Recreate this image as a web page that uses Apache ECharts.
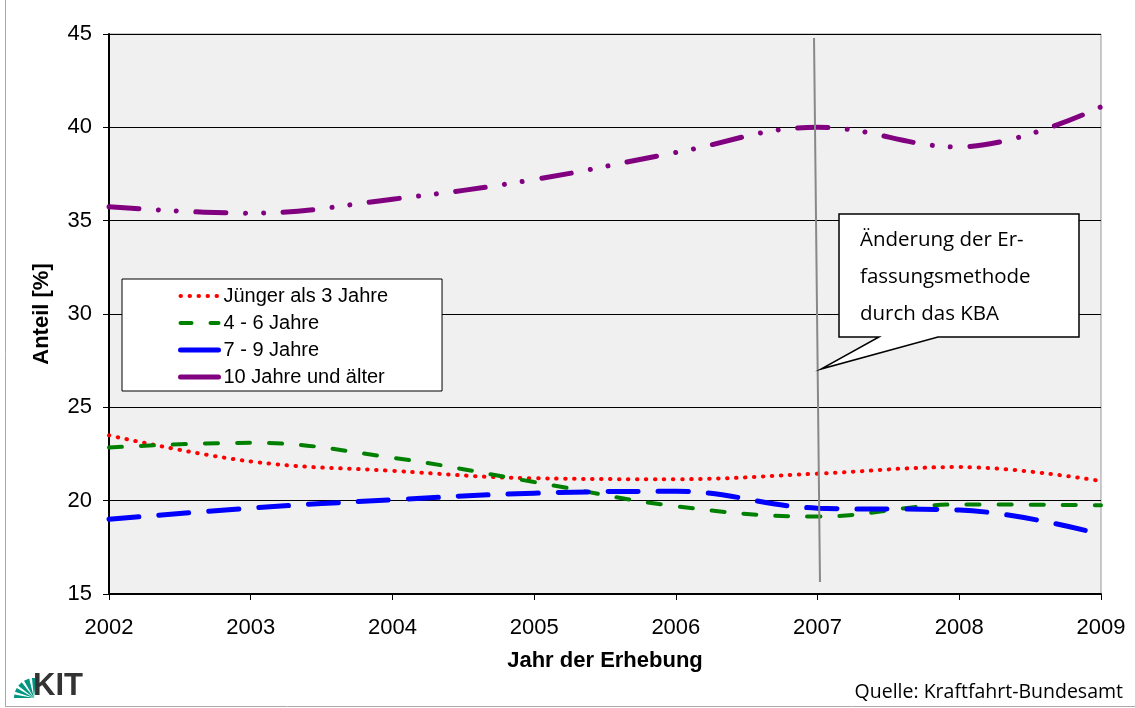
<!DOCTYPE html>
<html>
<head>
<meta charset="utf-8">
<script src="https://cdn.jsdelivr.net/npm/echarts@6/dist/echarts.min.js"></script>
<style>
html,body{margin:0;padding:0;background:#fff;}
#chart{width:1135px;height:708px;}
</style>
</head>
<body>
<div id="chart"></div>
<script>
const years = [2002, 2003, 2004, 2005, 2006, 2007, 2008, 2009];
const seriesNames = ['Jünger als 3 Jahre', '4 - 6 Jahre', '7 - 9 Jahre', '10 Jahre und älter'];
const jungerAls3 = [23.5, 22.1, 21.6, 21.2, 21.15, 21.45, 21.8, 21.05];
const jahre4bis6 = [22.85, 23.1, 22.3, 21.0, 19.7, 19.15, 19.8, 19.75];
const jahre7bis9 = [19.0, 19.6, 20.05, 20.4, 20.5, 19.6, 19.5, 18.2];
const jahre10plus = [35.75, 35.4, 36.15, 37.2, 38.65, 40.0, 38.95, 41.1];
const yTicks = [15, 20, 25, 30, 35, 40, 45];
const changeYear = 2007;

const pairs = arr => years.map((y, i) => [y, arr[i]]);

const chart = echarts.init(document.getElementById('chart'), null, {renderer: 'canvas'});

const fan = [];
const px = 34, py = 698, r = 20;
[[180, 190], [198, 210], [218, 232], [240, 256], [264, 276]].forEach(a => {
  const a1 = a[0] * Math.PI / 180, a2 = a[1] * Math.PI / 180;
  fan.push({
    type: 'polygon',
    shape: {points: [[px, py], [px + r * Math.cos(a1), py + r * Math.sin(a1)], [px + r * Math.cos(a2), py + r * Math.sin(a2)]]},
    style: {fill: '#009682'}
  });
});

const option = {
  backgroundColor: '#ffffff',
  animation: false,
  grid: {
    left: 109, right: 34, top: 34, bottom: 114,
    show: true, backgroundColor: '#f0f0f0', borderColor: '#999', borderWidth: 1
  },
  legend: {
    orient: 'vertical',
    left: 122, top: 279,
    padding: [7, 54, 4, 56],
    backgroundColor: '#ffffff',
    borderColor: '#000', borderWidth: 1,
    itemWidth: 38, itemHeight: 14, itemGap: 7,
    itemStyle: {opacity: 0},
    textStyle: {fontFamily: 'Liberation Sans', fontSize: 20, color: '#000'},
    data: [
      {name: seriesNames[0], lineStyle: {width: 4, type: [0.5, 8.5], cap: 'round'}},
      {name: seriesNames[1], lineStyle: {width: 4, type: [11, 19], cap: 'round'}},
      {name: seriesNames[2], lineStyle: {width: 5, type: 'solid', cap: 'round'}},
      {name: seriesNames[3], lineStyle: {width: 5, type: 'solid', cap: 'round'}}
    ]
  },
  xAxis: {
    type: 'value', min: 2002, max: 2009, interval: 1,
    name: 'Jahr der Erhebung', nameLocation: 'middle', nameGap: 56,
    nameTextStyle: {fontFamily: 'Liberation Sans', fontWeight: 'bold', fontSize: 22, color: '#000'},
    axisLine: {show: true, lineStyle: {color: '#000', width: 2}},
    axisTick: {show: true, length: 6, lineStyle: {color: '#000'}},
    axisLabel: {margin: 23, fontFamily: 'Liberation Sans', fontSize: 22, color: '#000', formatter: v => String(v)},
    splitLine: {show: false}
  },
  yAxis: {
    type: 'value', min: yTicks[0], max: yTicks[yTicks.length - 1], interval: 5,
    name: 'Anteil [%]', nameLocation: 'middle', nameGap: 56, nameRotate: 90,
    nameTextStyle: {fontFamily: 'Liberation Sans', fontWeight: 'bold', fontSize: 22, color: '#000'},
    axisLine: {show: true, lineStyle: {color: '#000', width: 2}},
    axisTick: {show: true, length: 6, lineStyle: {color: '#000'}},
    axisLabel: {margin: 17, fontFamily: 'Liberation Sans', fontSize: 22, color: '#000'},
    splitLine: {show: true, lineStyle: {color: '#000', width: 1}}
  },
  series: [
    {
      name: seriesNames[0], type: 'line', data: pairs(jungerAls3), smooth: 0.4,
      symbol: 'none', color: '#ff0000',
      lineStyle: {color: '#ff0000', width: 4, type: [0.5, 8.5], cap: 'round'}
    },
    {
      name: seriesNames[1], type: 'line', data: pairs(jahre4bis6), smooth: 0.4,
      symbol: 'none', color: '#008000',
      lineStyle: {color: '#008000', width: 4, type: [13, 19], cap: 'round'}
    },
    {
      name: seriesNames[2], type: 'line', data: pairs(jahre7bis9), smooth: 0.4,
      symbol: 'none', color: '#0000ff',
      lineStyle: {color: '#0000ff', width: 5, type: [30, 20], cap: 'round'}
    },
    {
      name: seriesNames[3], type: 'line', data: pairs(jahre10plus), smooth: 0.4,
      symbol: 'none', color: '#800080',
      lineStyle: {color: '#800080', width: 5, type: [30, 19.5, 0.01, 18, 0.01, 19.5], cap: 'round'},
      markLine: {
        silent: true, symbol: 'none', label: {show: false},
        lineStyle: {color: '#888888', width: 2, type: 'solid'},
        data: [[{coord: [changeYear - 0.025, 44.79]}, {coord: [changeYear + 0.017, 15.64]}]]
      }
    }
  ],
  graphic: [
    {type: 'polygon', z: 100,
      shape: {points: [[839, 214], [1079, 214], [1079, 337], [938, 337], [821, 369], [879, 337], [839, 337]]},
      style: {fill: '#ffffff', stroke: '#000000', lineWidth: 1.5}},
    {type: 'text', z: 101, left: 860, top: 230,
      style: {text: 'Änderung der Er-', fontFamily: 'Open Sans', fontSize: 20.5, fill: '#000'}},
    {type: 'text', z: 101, left: 860, top: 267,
      style: {text: 'fassungsmethode', fontFamily: 'Open Sans', fontSize: 20.5, fill: '#000'}},
    {type: 'text', z: 101, left: 860, top: 304,
      style: {text: 'durch das KBA', fontFamily: 'Open Sans', fontSize: 20.5, fill: '#000'}},
    {type: 'text', z: 101, right: 12, top: 682,
      style: {text: 'Quelle: Kraftfahrt-Bundesamt', fontFamily: 'Open Sans', fontSize: 19.5, fill: '#000'}},
    {type: 'text', z: 101, left: 33, top: 671,
      style: {text: 'KIT', fontFamily: 'Liberation Sans Narrow, Liberation Sans', fontWeight: 'bold', fontSize: 31, fill: '#333'}},
    {type: 'group', z: 101, children: fan},
    {type: 'line', z: 101, shape: {x1: 5.5, y1: 0, x2: 5.5, y2: 706.5}, style: {stroke: '#aaaaaa', lineWidth: 1}},
    {type: 'line', z: 101, shape: {x1: 5, y1: 706.5, x2: 1135, y2: 706.5}, style: {stroke: '#aaaaaa', lineWidth: 1}}
  ]
};
chart.setOption(option);
</script>
</body>
</html>
